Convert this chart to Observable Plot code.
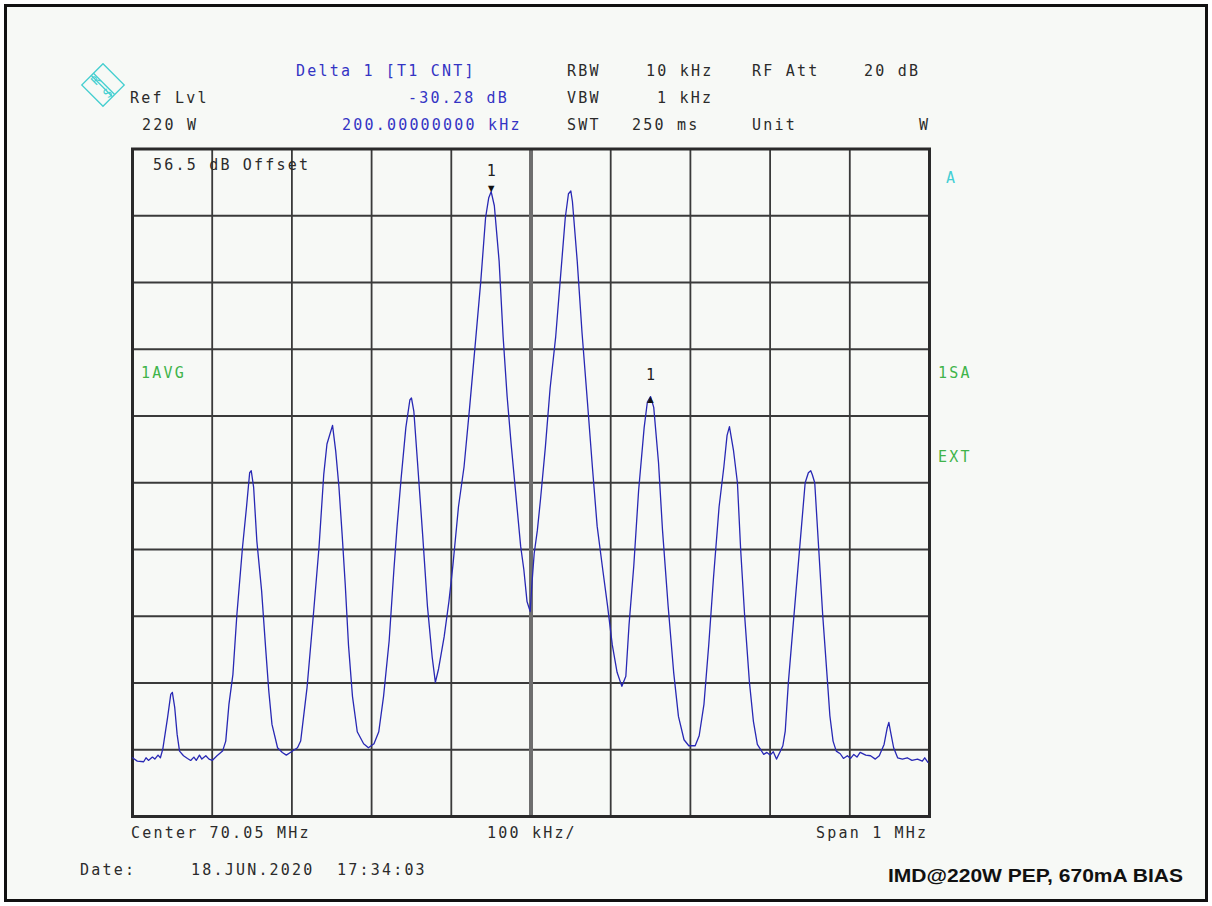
<!DOCTYPE html>
<html>
<head>
<meta charset="utf-8">
<script src="https://cdn.jsdelivr.net/npm/d3@7"></script>
<script src="https://cdn.jsdelivr.net/npm/@observablehq/plot@0.6"></script>
<style>
html,body{margin:0;padding:0;background:#fff;}
#page{position:relative;width:1212px;height:906px;overflow:hidden;background:#fff;}
#border{position:absolute;left:4px;top:4px;width:1198px;height:892px;border:3px solid #111;background:#f7f9f6;}
#chart{position:absolute;left:0;top:0;}
#overlay{position:absolute;left:0;top:0;pointer-events:none;}
#overlay text{font-family:"DejaVu Sans Mono",monospace;font-size:15px;letter-spacing:2.2px;white-space:pre;}
</style>
</head>
<body>
<div id="page">
  <div id="border"></div>
  <div id="chart"></div>
  <svg id="overlay" width="1212" height="906">
    <!-- R&S logo -->
    <g transform="translate(103,85) rotate(45)" stroke="#45cfd0" fill="none" stroke-width="1.3">
      <rect x="-15" y="-15" width="30" height="30"/>
      <line x1="-15" y1="-1.5" x2="15" y2="-1.5"/>
      <line x1="-15" y1="1.5" x2="15" y2="1.5"/>
    </g>
    <text x="92" y="84" fill="#45cfd0" style="font-size:12px;letter-spacing:0" transform="rotate(-45,96,80)">R</text>
    <text x="104" y="97" fill="#45cfd0" style="font-size:12px;letter-spacing:0" transform="rotate(-45,108,93)">S</text>

    <g fill="#2b2b2b">
      <text x="130" y="103">Ref Lvl</text>
      <text x="142" y="130">220 W</text>
      <text x="567" y="76">RBW</text>
      <text x="646" y="76">10 kHz</text>
      <text x="752" y="76">RF Att</text>
      <text x="864" y="76">20 dB</text>
      <text x="567" y="103">VBW</text>
      <text x="657" y="103">1 kHz</text>
      <text x="567" y="130">SWT</text>
      <text x="632" y="130">250 ms</text>
      <text x="752" y="130">Unit</text>
      <text x="919" y="130">W</text>
      <text x="153" y="170">56.5 dB Offset</text>
      <text x="131" y="838">Center 70.05 MHz</text>
      <text x="487" y="838">100 kHz/</text>
      <text x="816" y="838">Span 1 MHz</text>
      <text x="80" y="875">Date:</text>
      <text x="191" y="875" xml:space="preserve">18.JUN.2020  17:34:03</text>
    </g>
    <g fill="#3434c4">
      <text x="296" y="76">Delta 1 [T1 CNT]</text>
      <text x="408" y="103">-30.28 dB</text>
      <text x="342" y="130">200.00000000 kHz</text>
    </g>
    <g fill="#3fb44a">
      <text x="141" y="378">1AVG</text>
      <text x="938" y="378">1SA</text>
      <text x="938" y="462">EXT</text>
    </g>
    <text x="946" y="183" fill="#43cfd4">A</text>
    <text x="888" y="882" fill="#111" textLength="295" lengthAdjust="spacingAndGlyphs"
      style="font-family:'Liberation Sans',Arial,sans-serif;font-weight:bold;font-size:19px;letter-spacing:0">IMD@220W PEP, 670mA BIAS</text>
  </svg>
</div>
<script>
// Frequency offset from centre (70.05 MHz), kHz
const freqKHz = [-500,-494,-486,-483,-480,-475,-472,-468,-465,-462,-456,-452,-450,-447,-444,-441,-436,-431,-427,-423,-420,-416,-413,-408,-404,-400,-394,-387,-383,-379,-374,-369,-362,-357,-353,-351,-348,-344,-338,-333,-329,-325,-318,-312,-307,-302,-293,-289,-285,-281,-273,-266,-260,-256,-249,-245,-241,-237,-233,-229,-224,-218,-210,-204,-197,-191,-185,-178,-172,-168,-163,-157,-152,-150,-147,-142,-136,-130,-124,-120,-116,-109,-103,-98,-91,-84,-77,-70,-63,-57,-53,-50,-46,-40,-35,-30,-25,-19,-13,-9,-5,-1,1,4,8,12,18,24,31,37,43,47,50,52,58,64,71,77,83,90,96,102,108,114,119,123,129,135,142,146,150,154,160,165,172,179,185,192,198,206,211,217,223,229,236,242,246,249,254,259,263,268,274,279,284,292,296,300,304,308,313,316,319,323,330,337,344,348,351,353,356,361,366,372,375,379,383,388,392,397,401,405,409,413,420,426,432,437,443,447,449,451,455,460,466,472,478,485,491,494,498];
// Level relative to reference level, dB (10 dB / division)
const levelDb = [-91.2,-91.7,-91.8,-91.2,-91.6,-91.1,-91.4,-90.8,-91.2,-89.9,-85.2,-81.7,-81.4,-83.7,-87.7,-90.2,-90.9,-91.3,-91.6,-91.1,-91.6,-90.8,-91.4,-90.9,-91.4,-91.6,-90.9,-90.2,-88.7,-83.2,-78.7,-69.7,-59.7,-53.7,-48.5,-48.2,-50.7,-58.7,-66.2,-74.7,-81.2,-86.2,-89.7,-90.4,-90.8,-90.4,-89.7,-88.7,-84.7,-80.7,-69.7,-59.7,-48.7,-44.2,-41.4,-45.3,-50.6,-57.7,-65.4,-74.3,-82.0,-87.3,-89.1,-89.7,-89.1,-87.3,-82.0,-73.7,-63.0,-56.5,-49.4,-41.7,-37.6,-37.3,-39.3,-47.6,-57.7,-68.4,-76.1,-79.9,-77.9,-73.1,-67.8,-62.4,-53.6,-47.6,-38.7,-29.3,-19.8,-10.3,-7.3,-6.4,-8.5,-16.8,-28.1,-37.0,-44.1,-51.8,-59.5,-63.0,-67.8,-69.3,-65.4,-60.6,-57.1,-52.4,-44.7,-35.8,-28.1,-19.2,-10.3,-6.7,-6.3,-7.9,-16.8,-27.5,-38.2,-47.6,-56.5,-63.0,-68.4,-74.3,-78.4,-80.5,-79.0,-71.3,-62.4,-51.2,-41.7,-37.9,-37.1,-38.7,-47.0,-57.1,-68.4,-78.4,-85.0,-88.5,-89.4,-89.4,-87.9,-83.2,-74.3,-64.2,-53.6,-47.6,-42.9,-41.6,-45.1,-50.0,-59.9,-69.8,-79.8,-85.7,-89.2,-90.7,-90.4,-90.8,-90.3,-91.4,-90.2,-89.4,-87.2,-79.8,-69.8,-59.9,-50.0,-48.5,-48.2,-48.8,-50.0,-59.9,-69.8,-79.8,-84.9,-88.7,-90.2,-90.6,-91.3,-90.9,-91.3,-90.7,-91.1,-90.4,-90.8,-90.9,-91.4,-90.9,-89.2,-86.7,-85.9,-87.2,-89.7,-91.2,-91.4,-91.2,-91.6,-91.4,-91.7,-91.2,-91.9];

// Grid divisions
const xTicks = [-500,-400,-300,-200,-100,0,100,200,300,400,500];
const yTicks = [-100,-90,-80,-70,-60,-50,-40,-30,-20,-10,0];

// Markers: marker 1 and delta marker 1
const markerNames = ["M1","D1"];
const markerKHz = [-50, 150];
const markerDb = [-6.4, -36.7];

const trace = freqKHz.map((f, i) => ({f, db: levelDb[i]}));
const m1 = [{f: markerKHz[0], db: markerDb[0]}];
const d1 = [{f: markerKHz[1], db: markerDb[1]}];

const chart = Plot.plot({
  width: 1212,
  height: 906,
  marginLeft: 132,
  marginRight: 283,
  marginTop: 148.5,
  marginBottom: 90,
  style: {background: "transparent"},
  x: {domain: [-500, 500], axis: null},
  y: {domain: [-100, 0], axis: null},
  marks: [
    Plot.ruleX(xTicks, {stroke: "#3a3a3a", strokeWidth: 1.8}),
    Plot.ruleY(yTicks, {stroke: "#3a3a3a", strokeWidth: 1.8}),
    Plot.ruleX([0], {stroke: "#6e6e6e", strokeWidth: 4}),
    Plot.frame({stroke: "#2a2a2a", strokeWidth: 3}),
    Plot.line(trace, {x: "f", y: "db", stroke: "#2828b4", strokeWidth: 1.3}),
    Plot.text(m1, {x: "f", y: "db", text: () => "▼", fill: "#111", fontSize: 11, dy: -3}),
    Plot.text(m1, {x: "f", y: "db", text: () => "1", fill: "#222", fontSize: 15, fontFamily: "DejaVu Sans Mono", dy: -21}),
    Plot.text(d1, {x: "f", y: "db", text: () => "▲", fill: "#111", fontSize: 11, dy: 5}),
    Plot.text(d1, {x: "f", y: "db", text: () => "1", fill: "#222", fontSize: 15, fontFamily: "DejaVu Sans Mono", dy: -19})
  ]
});
document.getElementById("chart").appendChild(chart);
</script>
</body>
</html>
